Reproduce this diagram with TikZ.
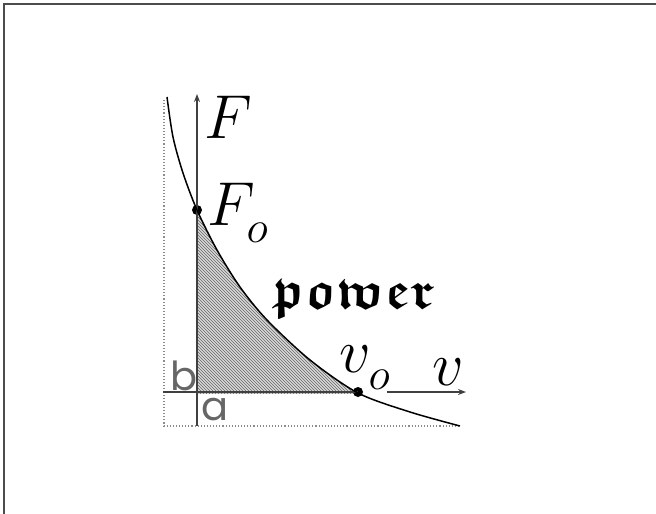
\RequirePackage{fix-cm}
\documentclass[tikz,border=0pt]{standalone}
\usepackage{amssymb}
\usepackage{fontspec}
\newfontfamily\popfont{Poppins}
\usetikzlibrary{patterns,arrows.meta}
\newcommand{\lowsub}{_{\lower 8pt\hbox{\fontsize{45}{45}\selectfont$o$}}}
\begin{document}
\begin{tikzpicture}[x=1pt,y=-1pt,
  axis/.style={draw=black!75,line width=1.3pt},
  guide/.style={draw=black!45,line width=1.1pt,dotted},
  curveline/.style={draw=black,line width=1.5pt},
  dotmark/.style={circle,fill=black,inner sep=0pt,minimum size=10pt},
  mathlbl/.style={inner sep=0pt,anchor=base west,font=\fontsize{62}{62}\selectfont},
  sanslbl/.style={inner sep=0pt,anchor=base west,text=black!60,font=\popfont\fontsize{40}{40}\selectfont},
  tip/.style={-{Stealth[length=8pt,width=6pt]}}]
\useasboundingbox (0,0) rectangle (656,514);
\draw[line width=2pt,black!70] (4,514) -- (4,4) -- (656,4);
% hatched region
\begin{scope}
  \clip (197,0) rectangle (358,393);
  \fill[black!15] plot[smooth] coordinates {(167,97) (173,137) (183,173) (197,210) (217,250) (240,287) (267,320) (310,360) (358,393) (410,412) (460,426)} -- (460,520) -- (167,520) -- cycle;
  \fill[pattern=north west lines,pattern color=black!60] plot[smooth] coordinates {(167,97) (173,137) (183,173) (197,210) (217,250) (240,287) (267,320) (310,360) (358,393) (410,412) (460,426)} -- (460,520) -- (167,520) -- cycle;
\end{scope}
% guides
\coordinate (gtop) at (164,100);
\coordinate (gcorner) at (164,426);
\coordinate (gright) at (460,426);
\draw[guide] (gtop) -- (gcorner) -- (gright);
% axes
\coordinate (ybot) at (197,426);
\coordinate (ytop) at (197,94);
\coordinate (xleft) at (163,392);
\coordinate (xmid) at (387,392);
\coordinate (xtip) at (466,392);
\node[dotmark] (F0) at (197,210) {};
\node[dotmark] (v0) at (358,392) {};
\draw[axis,tip] (ybot) -- (ytop);
\draw[axis] (xleft) -- (v0.center);
\draw[axis,tip] (xmid) -- (xtip);
% curve
\draw[curveline] plot[smooth] coordinates {(167,97) (173,137) (183,173) (197,210) (217,250) (240,287) (267,320) (310,360) (358,393) (410,412) (460,426)};
% labels
\node[mathlbl] (Flbl) at (204,138) {$F$};
\node[mathlbl] (F0lbl) at (207,225) {$F\lowsub$};
\node[mathlbl] (v0lbl) at (339,372) {$v\lowsub$};
\node[mathlbl] (vlbl) at (432,385) {$v$};
\node[sanslbl] (blbl) at (170,390) {b};
\node[sanslbl] (albl) at (201,420) {a};
\node[inner sep=0pt,anchor=base west,font=\fontsize{53}{53}\usefont{U}{euf}{b}{n}] (pw) at (272,308) {power};
\end{tikzpicture}
\end{document}
